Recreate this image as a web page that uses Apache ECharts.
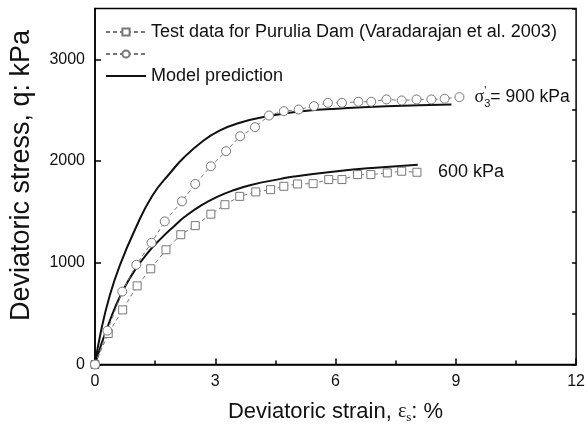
<!DOCTYPE html>
<html><head><meta charset="utf-8">
<script src="https://cdn.jsdelivr.net/npm/echarts@6/dist/echarts.min.js"></script>
<style>html,body{margin:0;padding:0;background:#fff}#c{width:588px;height:437px}</style>
</head><body><div id="c"></div>
<script>
// ---- data ----
const xTickValues = [0, 3, 6, 9, 12];
const yTickValues = [0, 1000, 2000, 3000];

const strain600 = [0, 0.33, 0.69, 1.05, 1.39, 1.77, 2.14, 2.50, 2.89, 3.24, 3.61, 4.01, 4.38, 4.71, 5.05, 5.44, 5.83, 6.16, 6.55, 6.88, 7.29, 7.65, 8.03];
const stress600 = [0, 305, 537, 773, 941, 1128, 1276, 1365, 1478, 1571, 1653, 1697, 1719, 1752, 1775, 1778, 1818, 1818, 1867, 1867, 1884, 1900, 1890];

const strain900 = [0, 0.31, 0.68, 1.03, 1.41, 1.74, 2.17, 2.50, 2.89, 3.27, 3.62, 3.99, 4.34, 4.71, 5.08, 5.46, 5.81, 6.16, 6.57, 6.89, 7.27, 7.65, 8.02, 8.39, 8.72, 9.09];
const stress900 = [0, 333, 717, 980, 1197, 1407, 1604, 1775, 1949, 2097, 2244, 2333, 2448, 2491, 2507, 2540, 2573, 2573, 2583, 2583, 2606, 2596, 2606, 2606, 2613, 2629];

const modelStrain600 = [0, 0.15, 0.29, 0.5, 0.74, 1.0, 1.32, 1.65, 2.0, 2.23, 2.65, 3.06, 3.47, 3.89, 4.63, 4.96, 6.04, 7.0, 8.05];
const modelStress600 = [0, 190, 345, 560, 760, 930, 1100, 1240, 1370, 1450, 1565, 1650, 1715, 1765, 1825, 1848, 1900, 1935, 1965];

const modelStrain900 = [0, 0.15, 0.37, 0.62, 0.99, 1.43, 1.9, 2.23, 2.7, 3.06, 3.55, 4.3, 5.29, 6.04, 7.27, 8.89];
const modelStress900 = [0, 330, 680, 975, 1320, 1660, 1895, 2040, 2200, 2290, 2370, 2440, 2495, 2515, 2540, 2557];

const legendTest = 'Test data for Purulia Dam (Varadarajan et al. 2003)';
const legendTest2 = ' ';
const legendModel = 'Model prediction';
const label600 = '600 kPa';
const label900 = '= 900 kPa';

// ---- chart ----
const FONT = '"Liberation Sans", Arial, Helvetica, sans-serif';
const SERIF = '"Liberation Serif", "DejaVu Serif", serif';
const zip = (a, b) => a.map((v, i) => [v, b[i]]);
const chart = echarts.init(document.getElementById('c'), null, {renderer: 'canvas'});

const tickStyle = {color: '#000', width: 1.5};
const dataLine = {color: '#777', width: 1, type: [4, 3]};
const markerStyle = {color: '#fff', borderColor: '#777', borderWidth: 1};

chart.setOption({
  animation: false,
  backgroundColor: '#fff',
  grid: {left: 93.3, right: 10.5, top: 8.5, bottom: 72.5, show: true, borderColor: '#000', borderWidth: 1.5},
  legend: {
    orient: 'vertical', left: 105, top: 23, padding: 0, itemWidth: 40, itemHeight: 9, itemGap: 4,
    data: [legendTest, legendTest2, {name: legendModel, itemStyle: {opacity: 0}}],
    textStyle: {fontSize: 18, fontFamily: FONT, color: '#111', lineHeight: 18}
  },
  xAxis: {
    type: 'value', min: xTickValues[0], max: xTickValues[xTickValues.length - 1], interval: xTickValues[1] - xTickValues[0],
    axisLine: {show: true, lineStyle: tickStyle},
    axisTick: {show: true, inside: true, length: 6, lineStyle: tickStyle},
    minorTick: {show: true, splitNumber: 2, length: 4, lineStyle: tickStyle},
    splitLine: {show: false},
    axisLabel: {color: '#111', fontSize: 16, fontFamily: FONT, margin: 9},
    name: '{a|Deviatoric strain, }{e|ε}{b|s}{a|: %}',
    nameLocation: 'middle', nameGap: 34,
    nameTextStyle: {
      rich: {
        a: {fontSize: 22, fontFamily: FONT, color: '#111', lineHeight: 26},
        e: {fontSize: 20, fontFamily: SERIF, color: '#111', lineHeight: 26},
        b: {fontSize: 13, fontFamily: SERIF, color: '#111', lineHeight: 14, verticalAlign: 'bottom'}
      }
    }
  },
  yAxis: [{
    type: 'value', min: 0, max: 3500, interval: yTickValues[1] - yTickValues[0],
    axisLine: {show: true, lineStyle: tickStyle},
    axisTick: {show: true, inside: true, length: 6, lineStyle: tickStyle},
    splitLine: {show: false},
    axisLabel: {color: '#111', fontSize: 16, fontFamily: FONT, margin: 10, showMaxLabel: false, formatter: v => String(v)},
    name: 'Deviatoric stress, q: kPa',
    nameLocation: 'middle', nameGap: 60, nameRotate: 90,
    nameTextStyle: {fontSize: 27, fontFamily: FONT, color: '#111', padding: [0, 0, 0, 22]}
  }, {
    type: 'value', min: 0, max: 3500, interval: (yTickValues[1] - yTickValues[0]) / 2,
    axisLine: {show: false},
    axisTick: {show: true, inside: true, length: 4, lineStyle: tickStyle},
    splitLine: {show: false},
    axisLabel: {show: false}
  }],
  series: [{
    name: legendTest, type: 'line', data: zip(strain600, stress600),
    symbol: 'rect', symbolSize: 8, lineStyle: dataLine, itemStyle: markerStyle, z: 3,
    endLabel: {show: true, formatter: label600, distance: 21, color: '#111', fontSize: 18, fontFamily: FONT}
  }, {
    name: legendTest2, type: 'line', data: zip(strain900, stress900),
    symbol: 'circle', symbolSize: 9, lineStyle: dataLine, itemStyle: markerStyle, z: 3,
    endLabel: {
      show: true, distance: 15,
      formatter: '{s|σ}{p|\'}{b|3}{t|' + label900 + '}',
      rich: {
        s: {fontSize: 18, fontFamily: SERIF, color: '#111', lineHeight: 24},
        p: {fontSize: 11, fontFamily: FONT, color: '#111', lineHeight: 12, verticalAlign: 'top', width: 0.1},
        b: {fontSize: 11, fontFamily: FONT, color: '#111', lineHeight: 12, verticalAlign: 'bottom'},
        t: {fontSize: 17.5, fontFamily: FONT, color: '#111', lineHeight: 24}
      }
    }
  }, {
    name: legendModel, type: 'line', data: zip(modelStrain900, modelStress900),
    smooth: true, symbol: 'none', lineStyle: {color: '#111', width: 2}, itemStyle: {color: '#111'}, z: 2
  }, {
    name: legendModel, type: 'line', data: zip(modelStrain600, modelStress600),
    smooth: true, symbol: 'none', lineStyle: {color: '#111', width: 2}, itemStyle: {color: '#111'}, z: 2
  }]
});
</script>
</body></html>
